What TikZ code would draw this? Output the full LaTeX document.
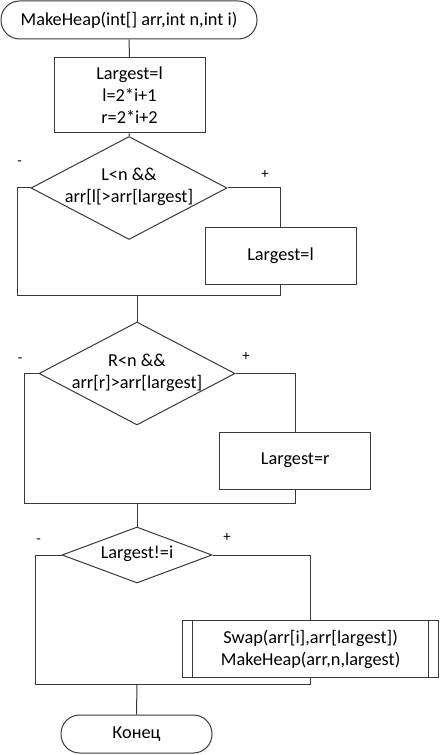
\documentclass[tikz,border=0pt]{standalone}
\usepackage{fontspec}
\setmainfont{Carlito}
\usetikzlibrary{shapes.geometric}
\begin{document}
\begin{tikzpicture}[x=0.75pt,y=-0.75pt,
  every node/.style={font=\fontsize{13.7pt}{16.5pt}\selectfont, text=black},
  ln/.style={draw=black!78, line width=0.75pt},
  proc/.style={ln, rectangle, inner sep=0pt, align=center},
  term/.style={ln, rectangle, rounded corners=14pt, inner sep=0pt, align=center},
  dia/.style={ln, diamond, inner sep=0pt},
  lbl/.style={inner sep=0pt, font=\fontsize{11pt}{13pt}\selectfont}]
\useasboundingbox (0,0) rectangle (440,755);

\node[term, minimum width=192pt, minimum height=28.5pt] (start) at (129,20) {MakeHeap(int[] arr,int n,int i)};
\node[proc, minimum width=113.25pt, minimum height=56.25pt] (b1) at (129.5,95.5) {Largest=l\\l=2*i+1\\r=2*i+2};

\node[dia, minimum width=147pt, minimum height=77.25pt] (d1) at (129,188) {};
\node[align=center, inner sep=0pt] (t1) at (129,187) {L<n \&\&\\arr[l[>arr[largest]};
\node[proc, minimum width=113.25pt, minimum height=42pt] (b2) at (280.5,256) {Largest=l};

\node[dia, minimum width=147pt, minimum height=77.25pt] (d2) at (137,373.5) {};
\node[align=center, inner sep=0pt] (t2) at (137,373) {R<n \&\&\\arr[r]>arr[largest]};
\node[proc, minimum width=113.6pt, minimum height=42.75pt] (b3) at (295.25,460.5) {Largest=r};

\node[dia, minimum width=112.5pt, minimum height=42pt] (d3) at (137,555) {};
\node[inner sep=0pt] (t3) at (137,554) {Largest!=i};
\node[proc, minimum width=192.5pt, minimum height=42.5pt] (sub) at (310.6,649.3) {Swap(arr[i],arr[largest])\\MakeHeap(arr,n,largest)};
\draw[ln] ([xshift=8.25pt]sub.north west) -- ([xshift=8.25pt]sub.south west);
\draw[ln] ([xshift=-8.25pt]sub.north east) -- ([xshift=-8.25pt]sub.south east);

\node[term, minimum width=113.25pt, minimum height=28.5pt] (end) at (136.5,734) {Конец};

% labels
\node[lbl] (m1) at (19.5,163) {-};
\node[lbl] (p1) at (265,174) {+};
\node[lbl] (m2) at (20,360) {-};
\node[lbl] (p2) at (246,356.5) {+};
\node[lbl] (m3) at (38.5,541) {-};
\node[lbl] (p3) at (227,537.5) {+};

% merge coordinates
\coordinate (j1) at (137,295);
\coordinate (j2) at (137,503);
\coordinate (j3) at (137,684);

% connectors
\draw[ln] (start.south) -- (b1.north);
\draw[ln] (b1.south) -- (d1.north);
\draw[ln] (d1.west) -- (17,188) -- (17,295) -- (280.5,295) -- (b2.south);
\draw[ln] (d1.east) -- (280.5,188) -- (b2.north);
\draw[ln] (j1) -- (d2.north);

\draw[ln] (d2.west) -- (24.5,373.5) -- (24.5,503) -- (295.25,503) -- (b3.south);
\draw[ln] (d2.east) -- (295.25,373.5) -- (b3.north);
\draw[ln] (j2) -- (d3.north);

\draw[ln] (d3.west) -- (35.5,555) -- (35.5,684) -- (310.6,684) -- (sub.south);
\draw[ln] (d3.east) -- (310.6,555) -- (sub.north);
\draw[ln] (j3) -- (end.north);
\end{tikzpicture}
\end{document}
